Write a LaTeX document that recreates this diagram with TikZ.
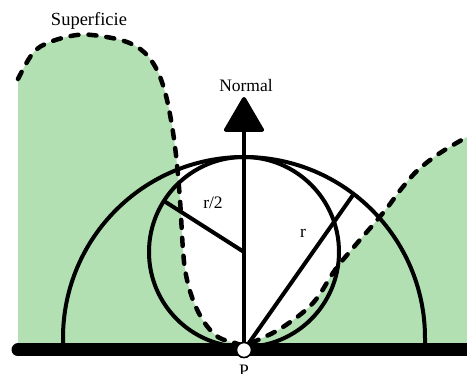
\documentclass[tikz,border=0pt]{standalone}
\usepackage{fontspec}
\setmainfont{Liberation Serif}
\usetikzlibrary{arrows.meta}
\definecolor{surf}{RGB}{178,224,178}
\begin{document}
\begin{tikzpicture}[x=1pt,y=-1pt,
  geo/.style={line width=4pt},
  surfline/.style={line width=4.5pt, line cap=round, dash pattern=on 8pt off 10pt},
  lbl/.style={font=\fontsize{17.5}{20}\selectfont, inner sep=0pt},
  pmark/.style={circle, draw, fill=white, line width=1.5pt, minimum size=15pt, inner sep=0pt}]
\useasboundingbox (0,0) rectangle (467,374);
% surface fill
\fill[surf] plot[smooth, tension=0.6] coordinates {(18,79) (33,53) (50,42) (77,35) (100,36) (127,42) (145,53) (157,70) (165,92) (171,120) (176,155) (180,200) (183,250) (186,275) (193,300) (204,322) (218,337) (235,343) (244,346)}
  -- plot[smooth, tension=0.6] coordinates {(244,346) (258,340) (283,327) (313,303) (335,270) (353,248) (383,213) (402,188) (418,170) (440,153) (467,137)}
  -- (467,352) -- (18,352) -- cycle;
% coordinates
\coordinate (C) at (244,338);
\coordinate (S) at (244,252);
\coordinate (Rend) at (353,195);
\coordinate (Hend) at (164,201);
\coordinate (Ntip) at (244,97);
% big semicircle
\draw[geo] (63,346) -- (63,338) arc[start angle=180, end angle=0, radius=181pt] -- (425,346);
% small circle
\draw[geo] (S) circle[radius=95pt];
% radius lines
\draw[geo] (S) -- (Hend);
% surface line
\draw[surfline] plot[smooth, tension=0.6] coordinates {(18,79) (33,53) (50,42) (77,35) (100,36) (127,42) (145,53) (157,70) (165,92) (171,120) (176,155) (180,200) (183,250) (186,275) (193,300) (204,322) (218,337) (235,343) (244,346)}
  -- plot[smooth, tension=0.6] coordinates {(244,346) (258,340) (283,327) (313,303) (335,270) (353,248) (383,213) (402,188) (418,170) (440,153) (467,137)};
% ground
\coordinate (G1) at (18,350);
\coordinate (G2) at (480,350);
\draw[line width=13pt, line cap=round] (G1) -- (G2);
% P
\node[pmark] (P) at (244,350) {};
\draw[geo] (P.center) -- (Rend);
\draw[geo, -{Triangle[width=42pt,length=37pt,round]}] (P.center) -- (Ntip);
\node[pmark] at (P) {};
% labels
\node[lbl] (normal) at (246,86) {Normal};
\node[lbl, font=\fontsize{18.5}{21}\selectfont] (sup) at (89,21) {Superficie};
\node[lbl] (half) at (213,203) {r/2};
\node[lbl] (rr) at (303,233) {r};
\node[lbl] (plbl) at (244,371) {P};
\end{tikzpicture}
\end{document}
